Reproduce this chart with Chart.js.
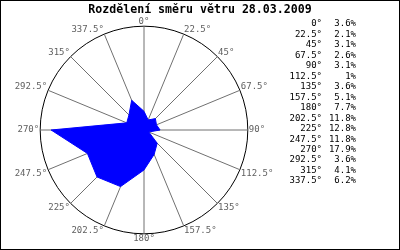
<!DOCTYPE html>
<html>
<head>
<meta charset="utf-8">
<script src="https://cdn.jsdelivr.net/npm/chart.js@4"></script>
<style>
html,body{margin:0;padding:0;background:#fff;}
canvas{display:block;}
</style>
</head>
<body>
<canvas id="c" width="400" height="250"></canvas>
<script>
const titleText = 'Rozdělení směru větru 28.03.2009';
const directions = ['0°','22.5°','45°','67.5°','90°','112.5°','135°','157.5°','180°','202.5°','225°','247.5°','270°','292.5°','315°','337.5°'];
const shares = [3.6, 2.1, 3.1, 2.6, 3.1, 1, 3.6, 5.1, 7.7, 11.8, 12.8, 11.8, 17.9, 3.6, 4.1, 6.2];
const shareLabels = ['3.6%','2.1%','3.1%','2.6%','3.1%','1%','3.6%','5.1%','7.7%','11.8%','12.8%','11.8%','17.9%','3.6%','4.1%','6.2%'];
const scaleMax = 20;

const mono = "'DejaVu Sans Mono', 'Liberation Mono', monospace";

const frameAndText = {
  id: 'frameAndText',
  afterDraw(chart) {
    const ctx = chart.ctx;
    ctx.save();
    // title across the full width
    ctx.font = 'bold 11.6px ' + mono;
    ctx.fillStyle = '#000';
    ctx.textAlign = 'center';
    ctx.textBaseline = 'alphabetic';
    ctx.fillText(titleText, 200, 13);
    // side list
    ctx.font = '9px ' + mono;
    ctx.textBaseline = 'middle';
    ctx.textAlign = 'right';
    for (let i = 0; i < directions.length; i++) {
      const y = 24 + i * 10.47;
      ctx.fillText(directions[i], 322, y);
      ctx.fillText(shareLabels[i], 356, y);
    }
    ctx.strokeStyle = '#000';
    ctx.lineWidth = 1;
    ctx.strokeRect(0.5, 0.5, 399, 249);
    ctx.restore();
  }
};

new Chart(document.getElementById('c'), {
  type: 'radar',
  data: {
    labels: directions,
    datasets: [{
      data: shares,
      backgroundColor: '#0000ff',
      borderColor: '#0000ff',
      borderWidth: 1,
      pointRadius: 0,
      fill: true,
      tension: 0
    }]
  },
  options: {
    responsive: false,
    animation: false,
    layout: { padding: { left: 0, right: 112, top: 18, bottom: 8 } },
    plugins: {
      legend: { display: false },
      tooltip: { enabled: false },
      title: { display: false }
    },
    scales: {
      r: {
        min: 0,
        max: scaleMax,
        ticks: { display: false, stepSize: scaleMax },
        grid: { circular: true, color: '#000', lineWidth: 1 },
        angleLines: { display: true, color: '#707070', lineWidth: 1 },
        pointLabels: {
          display: true,
          color: '#606060',
          padding: 1,
          font: { family: mono, size: 9, lineHeight: 0.8 }
        }
      }
    }
  },
  plugins: [frameAndText]
});
</script>
</body>
</html>
